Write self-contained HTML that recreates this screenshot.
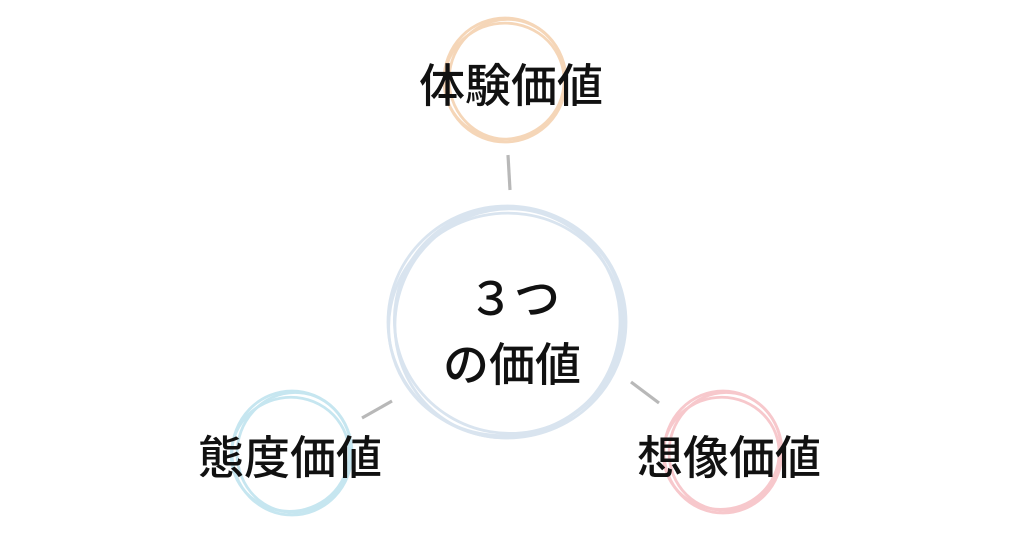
<!DOCTYPE html>
<html><head><meta charset="utf-8"><style>
html,body{margin:0;padding:0;background:#fff;}
svg{display:block}
text{font-family:"Liberation Sans","Noto Sans CJK JP",sans-serif;fill:#111;font-weight:500;}
</style></head><body>
<svg width="1024" height="536" viewBox="0 0 1024 536" xmlns="http://www.w3.org/2000/svg">
<g fill="none" stroke-width="2.8">
 <g stroke="#f5d6b8">
  <ellipse cx="505" cy="80" rx="61" ry="62"/>
  <ellipse cx="507" cy="79" rx="58" ry="60" transform="rotate(8 505 80)"/>
  <ellipse cx="504" cy="81" rx="60" ry="58" transform="rotate(-10 505 80)"/>
 </g>
 <g stroke="#d9e4ef">
  <ellipse cx="507" cy="322" rx="119" ry="116"/>
  <ellipse cx="509" cy="320" rx="115" ry="113" transform="rotate(10 507 322)"/>
  <ellipse cx="505" cy="324" rx="117" ry="111" transform="rotate(-12 507 322)"/>
  <ellipse cx="508" cy="323" rx="112" ry="115" transform="rotate(25 507 322)"/>
 </g>
 <g stroke="#c6e6f0">
  <ellipse cx="292" cy="453" rx="60" ry="62"/>
  <ellipse cx="294" cy="452" rx="57" ry="60" transform="rotate(10 292 453)"/>
  <ellipse cx="290" cy="454" rx="59" ry="57" transform="rotate(-10 292 453)"/>
 </g>
 <g stroke="#f7c8cc">
  <ellipse cx="723" cy="452" rx="59" ry="61"/>
  <ellipse cx="725" cy="451" rx="56" ry="59" transform="rotate(10 723 452)"/>
  <ellipse cx="721" cy="453" rx="58" ry="56" transform="rotate(-10 723 452)"/>
 </g>
 <g stroke="#b8b8b8" stroke-width="3.2">
  <line x1="508" y1="155" x2="510" y2="190"/>
  <line x1="362" y1="418" x2="392" y2="401"/>
  <line x1="631" y1="382" x2="659" y2="403"/>
 </g>
</g>
<text x="511" y="102" font-size="46" text-anchor="middle">体験価値</text>
<text x="514" y="315" font-size="46" text-anchor="middle">３つ</text>
<text x="512" y="381" font-size="46" text-anchor="middle">の価値</text>
<text x="290" y="474" font-size="46" text-anchor="middle">態度価値</text>
<text x="729" y="474" font-size="46" text-anchor="middle">想像価値</text>
</svg>
</body></html>
